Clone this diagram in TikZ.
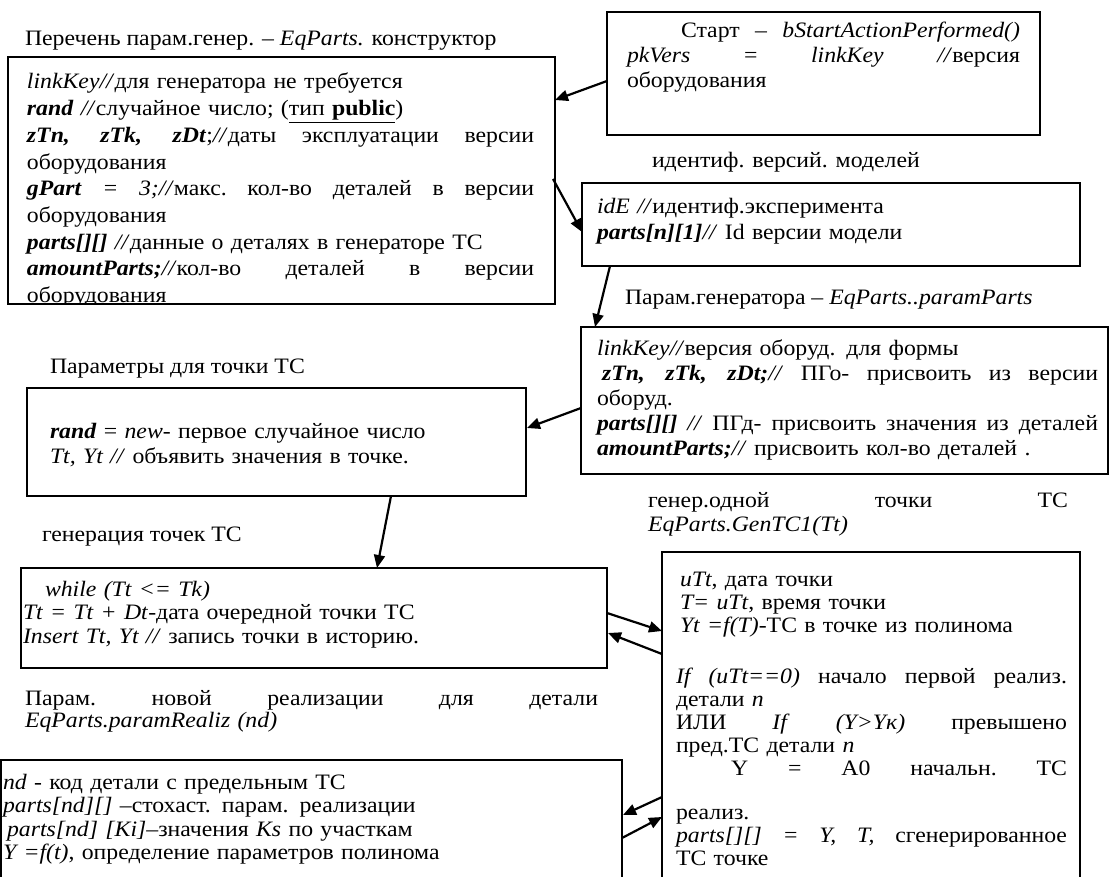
\documentclass[tikz,border=0pt]{standalone}
\usepackage{fontspec}
\setmainfont{Liberation Serif}[FakeStretch=1.08]
\usetikzlibrary{calc,arrows.meta}
\newcommand\bi[1]{\textbf{\textit{#1}}}
\newcommand\jl[2]{\leavevmode\hbox to #1{\spaceskip=0.25em plus 1fil\relax\xspaceskip=0.25em plus 1fil\relax #2}}
\begin{document}
\begin{tikzpicture}[x=1pt,y=-1pt,
  box/.style={draw, line width=1.3pt, anchor=north west, inner sep=0pt, outer sep=0pt},
  txt/.style={anchor=base west, inner sep=0pt, outer sep=0pt, align=left, font=\fontsize{22}{#1}\selectfont},
  lbl/.style={anchor=base west, inner sep=0pt, outer sep=0pt, align=left, font=\fontsize{22}{24}\selectfont},
  arr/.style={line width=2.2pt, -{Triangle[length=13pt,width=11pt]}},
]
\useasboundingbox (0,0) rectangle (1110,877);
\clip (0,0) rectangle (1110,877);

% boxes
\node[box, minimum width=547pt, minimum height=247pt] (A) at (8,57) {};
\node[box, minimum width=433pt, minimum height=123pt] (B) at (607,12) {};
\node[box, minimum width=498pt, minimum height=83pt] (C) at (582,183) {};
\node[box, minimum width=527pt, minimum height=147pt] (D) at (581,327) {};
\node[box, minimum width=499pt, minimum height=108pt] (E) at (27,388) {};
\node[box, minimum width=586pt, minimum height=100pt] (F) at (21,568) {};
\node[box, minimum width=418pt, minimum height=335pt] (G) at (662,552) {};
\node[box, minimum width=621pt, minimum height=128pt] (H) at (1,760) {};

% labels
\node[lbl] (L1) at (25,46) {Перечень парам.генер. – \textit{EqParts.} конструктор};
\node[lbl] (L2) at (652,168) {идентиф. версий. моделей};
\node[lbl] (L3) at (625,304) {Парам.генератора – \textit{EqParts..paramParts}};
\node[lbl] (L4) at (50,373) {Параметры для точки ТС};
\node[lbl] (L5) at (42,541) {генерация точек ТС};
\node[lbl, text width=420pt] (L6) at (648,507) {\jl{420pt}{генер.одной точки ТС}\\\textit{EqParts.GenTC1(Tt)}};
\node[lbl, text width=573pt, font=\fontsize{22}{22}\selectfont] (L7) at (25,705) {\jl{573pt}{Парам. новой реализации для детали}\\\textit{EqParts.paramRealiz (nd)}};

% box texts
\begin{scope}
\clip (8,57) rectangle (555,303);
\node[txt=26.7, text width=507pt] (TA) at (27,89) {\textit{linkKey//}для генератора не требуется\\
\bi{rand} \textit{//}случайное число; (\underline{тип \textbf{public}})\\
\jl{507pt}{\bi{zTn, zTk, zDt};\textit{//}даты эксплуатации версии}\\
оборудования\\
\jl{507pt}{\bi{gPart} \textit{= 3;//}макс. кол-во деталей в версии}\\
оборудования\\
\bi{parts[][]} \textit{//}данные о деталях в генераторе ТС\\
\jl{507pt}{\bi{amountParts;}\textit{//}кол-во деталей в версии}\\
оборудования};
\end{scope}

\node[txt=25, text width=393pt] (TB) at (627,38) {\jl{393pt}{\hspace*{54pt}Старт – \textit{bStartActionPerformed()}}\\
\jl{393pt}{\textit{pkVers} = \textit{linkKey} \textit{//}версия}\\
оборудования};

\node[txt=26, text width=470pt] (TC) at (597,214) {\textit{idE //}идентиф.эксперимента\\
\bi{parts[n][1]}\textit{//} Id версии модели};

\node[txt=25, text width=501pt] (TD) at (597,355) {\textit{linkKey//}версия оборуд. для формы\\
\jl{501pt}{\hspace*{5pt}\bi{zTn, zTk, zDt;}\textit{//} ПГо- присвоить из версии}\\
оборуд.\\
\jl{501pt}{\bi{parts[][]} \textit{//} ПГд- присвоить значения из деталей}\\
\bi{amountParts;}\textit{//} присвоить кол-во деталей .};

\node[txt=25, text width=460pt] (TE) at (50,438) {\bi{rand} = \textit{new}- первое случайное число\\
\textit{Tt, Yt //} объявить значения в точке.};

\node[txt=23.5, text width=570pt] (TF) at (23,596) {\hspace*{22pt}\textit{while (Tt <= Tk)}\\
\textit{Tt = Tt + Dt}-дата очередной точки ТС\\
\textit{Insert Tt, Yt //} запись точки в историю.};

\node[txt=23, text width=391pt] (TG) at (676,586) {\hspace*{4pt}\textit{uTt}, дата точки\\
\hspace*{4pt}\textit{T= uTt}, время точки\\
\hspace*{4pt}\textit{Yt =f(T)}-ТС в точке из полинома\\[28pt]
\jl{391pt}{\textit{If (uTt==0)} начало первой реализ.}\\
детали \textit{n}\\
\jl{391pt}{ИЛИ \textit{If} \textit{(Y>Yк)} превышено}\\
пред.ТС детали \textit{n}\\
\jl{391pt}{\hspace*{55pt}Y = A0 начальн. ТС}\\[21pt]
реализ.\\
\jl{391pt}{\textit{parts[][] = Y, T,} сгенерированное}\\
ТС точке};

\node[txt=23.5, text width=600pt] (TH) at (3,789) {\textit{nd} - код детали с предельным ТС\\
\textit{parts[nd][]} –стохаст. парам. реализации\\
\hspace*{4pt}\textit{parts[nd] [Ki]}–значения \textit{Ks} по участкам\\
\textit{Y =f(t)}, определение параметров полинома};

% connectors
\draw[arr] ($(B.north west)+(0,69)$) -- ($(A.north east)+(0,43)$);
\draw[arr] ($(A.north east)+(-2,122)$) -- ($(C.north west)+(0,49)$);
\draw[arr] ($(C.south west)+(28,0)$) -- ($(D.north west)+(14,0)$);
\draw[arr] ($(D.north west)+(0,81)$) -- ($(E.north east)+(1,40)$);
\draw[arr] ($(E.south west)+(364,0)$) -- ($(F.north west)+(356,0)$);
\draw[arr] ($(F.north east)+(0,45)$) -- ($(G.north west)+(0,79)$);
\draw[arr] ($(G.north west)+(0,102)$) -- ($(F.north east)+(1,65)$);
\draw[arr] ($(G.north west)+(0,245)$) -- ($(H.north east)+(1,55)$);
\draw[arr] ($(H.north east)+(0,78)$) -- ($(G.north west)+(0,265)$);
\end{tikzpicture}
\end{document}
